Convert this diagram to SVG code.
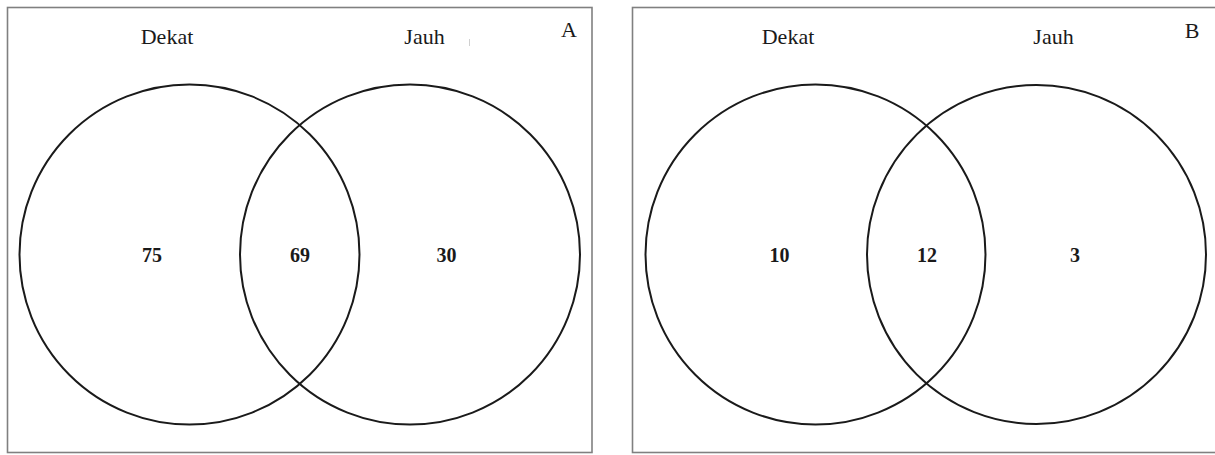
<svg xmlns="http://www.w3.org/2000/svg" width="1215" height="455" viewBox="0 0 1215 455">
<style>
.frame{fill:#fff;stroke:#808080;stroke-width:1.6}
.set{fill:none;stroke:#1a1a1a;stroke-width:2}
.lbl{font-family:"Liberation Serif","Times New Roman",serif;font-size:22px;fill:#1a1a1a;text-anchor:middle}
.num{font-family:"Liberation Serif","Times New Roman",serif;font-size:20px;font-weight:bold;fill:#1a1a1a;text-anchor:middle}
</style>
<rect width="1215" height="455" fill="#fff"/>
<g id="panelA">
<rect class="frame" x="7.5" y="7.5" width="584.5" height="445"/>
<text class="lbl" x="167" y="43.5">Dekat</text>
<text class="lbl" x="424.5" y="43.5">Jauh</text>
<text class="lbl" x="569" y="37">A</text>
<line x1="469.5" y1="39" x2="469.5" y2="46" stroke="#d0d0d0" stroke-width="1"/>
<g id="A-dekat"><circle class="set" cx="189.5" cy="254.5" r="170"/></g>
<g id="A-jauh"><circle class="set" cx="410" cy="254.5" r="170"/></g>
<text class="num" x="152" y="262">75</text>
<text class="num" x="300" y="262">69</text>
<text class="num" x="446.5" y="262">30</text>
</g>
<g id="panelB">
<rect class="frame" x="632.5" y="7.5" width="600" height="445"/>
<text class="lbl" x="788" y="43.5">Dekat</text>
<text class="lbl" x="1053.5" y="43.5">Jauh</text>
<text class="lbl" x="1192" y="38">B</text>
<g id="B-dekat"><circle class="set" cx="815.5" cy="254.5" r="170"/></g>
<g id="B-jauh"><circle class="set" cx="1036.5" cy="254.5" r="169.5"/></g>
<text class="num" x="779.5" y="262">10</text>
<text class="num" x="927" y="262">12</text>
<text class="num" x="1075" y="262">3</text>
</g>
<g id="connectors"></g>
</svg>
